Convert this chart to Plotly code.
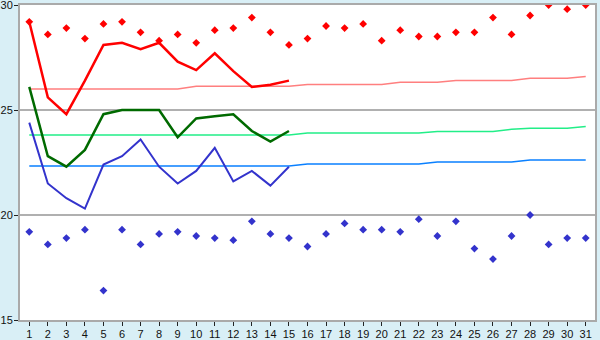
import plotly.graph_objects as go

days = list(range(1, 32))

max_temp = [29.2, 28.6, 28.9, 28.4, 29.1, 29.2, 28.7, 28.3, 28.6, 28.2,
            28.8, 28.9, 29.4, 28.7, 28.1, 28.4, 29.0, 28.9, 29.1, 28.3,
            28.8, 28.5, 28.5, 28.7, 28.7, 29.4, 28.6, 29.5, 30.0, 29.8, 30.0]
min_temp = [19.2, 18.6, 18.9, 19.3, 16.4, 19.3, 18.6, 19.1, 19.2, 19.0,
            18.9, 18.8, 19.7, 19.1, 18.9, 18.5, 19.1, 19.6, 19.3, 19.3,
            19.2, 19.8, 19.0, 19.7, 18.4, 17.9, 19.0, 20.0, 18.6, 18.9, 18.9]

obs_days = list(range(1, 16))
avg_max = [29.2, 25.6, 24.8, 26.4, 28.1, 28.2, 27.9, 28.2, 27.3, 26.9,
           27.7, 26.85, 26.1, 26.2, 26.4]
avg_mean = [26.1, 22.8, 22.3, 23.1, 24.8, 25.0, 25.0, 25.0, 23.7, 24.6,
            24.7, 24.8, 24.0, 23.5, 24.0]
avg_min = [24.4, 21.5, 20.8, 20.3, 22.4, 22.8, 23.6, 22.3, 21.5, 22.1,
           23.2, 21.6, 22.1, 21.4, 22.3]

norm_max = [26.0, 26.0, 26.0, 26.0, 26.0, 26.0, 26.0, 26.0, 26.0, 26.13,
            26.13, 26.13, 26.13, 26.13, 26.13, 26.22, 26.22, 26.22, 26.22, 26.22,
            26.32, 26.32, 26.32, 26.41, 26.41, 26.41, 26.41, 26.51, 26.51, 26.51, 26.6]
norm_mean = [23.81, 23.81, 23.81, 23.81, 23.81, 23.81, 23.81, 23.81, 23.81, 23.81,
             23.81, 23.81, 23.81, 23.81, 23.81, 23.9, 23.9, 23.9, 23.9, 23.9,
             23.9, 23.9, 23.98, 23.98, 23.98, 23.98, 24.08, 24.13, 24.13, 24.13, 24.22]
norm_min = [22.33, 22.33, 22.33, 22.33, 22.33, 22.33, 22.33, 22.33, 22.33, 22.33,
            22.33, 22.33, 22.33, 22.33, 22.33, 22.43, 22.43, 22.43, 22.43, 22.43,
            22.43, 22.43, 22.52, 22.52, 22.52, 22.52, 22.52, 22.62, 22.62, 22.62, 22.62]

y_ticks = [15, 20, 25, 30]

fig = go.Figure()
fig.add_trace(go.Scatter(x=days, y=norm_max, mode="lines", line=dict(color="#ff7f7f", width=1.5)))
fig.add_trace(go.Scatter(x=days, y=norm_mean, mode="lines", line=dict(color="#22ee88", width=1.5)))
fig.add_trace(go.Scatter(x=days, y=norm_min, mode="lines", line=dict(color="#0a80ff", width=1.5)))
fig.add_trace(go.Scatter(x=obs_days, y=avg_max, mode="lines", line=dict(color="#ff0000", width=2.5)))
fig.add_trace(go.Scatter(x=obs_days, y=avg_mean, mode="lines", line=dict(color="#006a00", width=2.5)))
fig.add_trace(go.Scatter(x=obs_days, y=avg_min, mode="lines", line=dict(color="#3333cc", width=2)))
fig.add_trace(go.Scatter(x=days, y=max_temp, mode="markers",
                         marker=dict(symbol="diamond", size=6, color="#ff0000")))
fig.add_trace(go.Scatter(x=days, y=min_temp, mode="markers",
                         marker=dict(symbol="diamond", size=6, color="#3333cc")))

axis_common = dict(showline=True, linecolor="#aaaaaa", linewidth=2, mirror=True,
                   ticks="outside", tickcolor="#222222", ticklen=4, automargin=False,
                   ticklabeloverflow="allow",
                   tickfont=dict(family="Liberation Sans, Arial", size=11, color="#111111"),
                   zeroline=False)
fig.update_xaxes(range=[0.5, 31.5], tickvals=days, showgrid=False,
                 ticklabelstandoff=-1, **axis_common)
fig.update_yaxes(range=[15, 30], tickvals=y_ticks, showgrid=True, gridcolor="#b0b0b0",
                 gridwidth=2, ticklabelstandoff=-1, **axis_common)
fig.update_layout(width=600, height=340, margin=dict(l=20, r=5, t=5, b=20),
                  paper_bgcolor="#d9eff6", plot_bgcolor="#ffffff", showlegend=False)
fig.write_html("out.html")
